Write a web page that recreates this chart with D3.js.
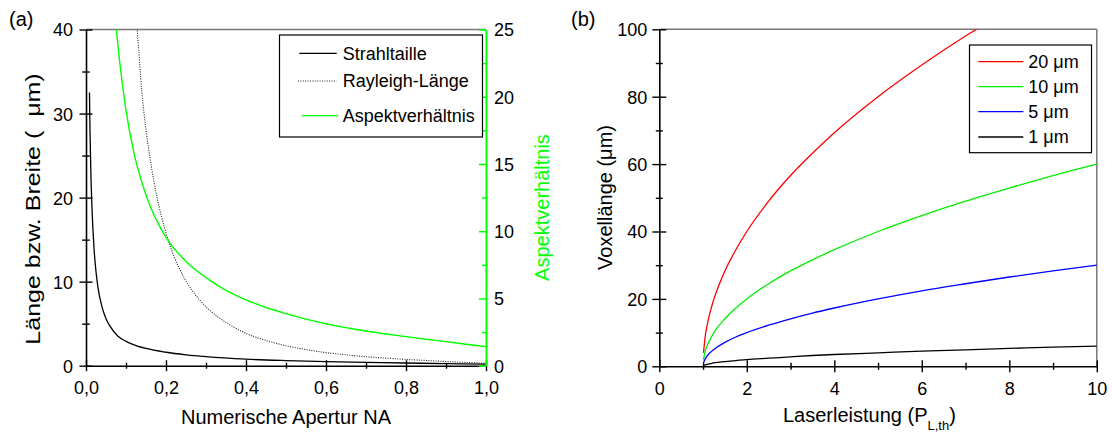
<!DOCTYPE html>
<html>
<head>
<meta charset="utf-8">
<script src="https://cdn.jsdelivr.net/npm/d3@7"></script>
<style>
  html, body { margin: 0; padding: 0; background: #fff; }
  svg text { font-family: "Liberation Sans", Arial, sans-serif; fill: #000; }
</style>
</head>
<body>
<svg id="chart" width="1112" height="432"></svg>
<script>
// ---- Panel (a): focus geometry versus numerical aperture ----
const naWaist  = [0.0087, 0.01, 0.012, 0.015, 0.02, 0.025, 0.03, 0.04, 0.05, 0.06, 0.08, 0.1, 0.125, 0.15, 0.2, 0.25, 0.3, 0.4, 0.5, 0.6, 0.7, 0.8, 0.9, 1.0];
const waist    = [32.5, 28.0, 23.3, 18.7, 14.0, 11.2, 9.3, 7.0, 5.6, 4.7, 3.5, 2.9, 2.4, 2.05, 1.6, 1.3, 1.08, 0.78, 0.61, 0.49, 0.4, 0.32, 0.25, 0.19];

const naRayleigh = [0.12, 0.128, 0.14, 0.15, 0.16, 0.18, 0.2, 0.22, 0.245, 0.27, 0.295, 0.33, 0.36, 0.4, 0.45, 0.5, 0.55, 0.6, 0.65, 0.7, 0.75, 0.8, 0.85, 0.9, 0.95, 1.0];
const rayleigh   = [45, 40, 32.4, 28.1, 24.7, 19.5, 15.8, 13.0, 10.5, 8.65, 7.25, 5.8, 4.85, 3.85, 3.0, 2.38, 1.92, 1.56, 1.29, 1.07, 0.9, 0.75, 0.62, 0.5, 0.39, 0.29];

const naAspect = [0.07, 0.076, 0.085, 0.1, 0.12, 0.14, 0.16, 0.18, 0.2, 0.25, 0.3, 0.35, 0.4, 0.45, 0.5, 0.55, 0.6, 0.65, 0.7, 0.75, 0.8, 0.85, 0.9, 0.95, 1.0];
const aspect   = [27.1, 25.0, 22.4, 19.0, 15.8, 13.6, 11.9, 10.6, 9.55, 7.75, 6.55, 5.6, 4.9, 4.33, 3.87, 3.46, 3.12, 2.83, 2.58, 2.36, 2.16, 1.97, 1.79, 1.6, 1.41];

const legendA   = ["Strahltaille", "Rayleigh-Länge", "Aspektverhältnis"];
const xTicksA   = [0, 0.2, 0.4, 0.6, 0.8, 1.0];
const xMinorA   = [0.1, 0.3, 0.5, 0.7, 0.9];
const yTicksA   = [0, 10, 20, 30, 40];
const yMinorA   = [5, 15, 25, 35];
const y2TicksA  = [0, 5, 10, 15, 20, 25];
const y2MinorA  = [2.5, 7.5, 12.5, 17.5, 22.5];

// ---- Panel (b): voxel length versus laser power ----
const power    = [1.01, 1.05, 1.1, 1.2, 1.3, 1.5, 1.75, 2, 2.5, 3, 3.5, 4, 5, 6, 7, 8, 9, 10];
const voxel20  = [4.0, 8.9, 12.6, 17.9, 21.9, 28.3, 34.6, 40, 49.0, 56.6, 63.2, 69.3, 80, 89.4, 98.0, 105.8, 113.1, 120];
const voxel10  = [2.0, 4.5, 6.3, 8.9, 11.0, 14.1, 17.3, 20, 24.5, 28.3, 31.6, 34.6, 40, 44.7, 49.0, 52.9, 56.6, 60];
const voxel5   = [1.0, 2.2, 3.2, 4.5, 5.5, 7.1, 8.7, 10, 12.2, 14.1, 15.8, 17.3, 20, 22.4, 24.5, 26.5, 28.3, 30];
const voxel1   = [0.2, 0.4, 0.6, 0.9, 1.1, 1.4, 1.7, 2.0, 2.4, 2.8, 3.2, 3.5, 4.0, 4.5, 4.9, 5.3, 5.7, 6.0];
const seriesB  = ["20 μm", "10 μm", "5 μm", "1 μm"];
const colorsB  = ["#ff0000", "#00ee00", "#0000ff", "#000000"];
const xTicksB  = [0, 2, 4, 6, 8, 10];
const xMinorB  = [1, 3, 5, 7, 9];
const yTicksB  = [0, 20, 40, 60, 80, 100];
const yMinorB  = [10, 30, 50, 70, 90];

const GREEN = "#00ff00";
const svg = d3.select("#chart");

// Axis with ticks that cross the axis line (both sides)
function crossAxis(g, axisFn, scale, major, minor, fmt, orient, majLen, minLen, color) {
  const maj = axisFn(scale).tickValues(major).tickFormat(fmt).tickSizeInner(majLen).tickSizeOuter(0);
  const mi = g.append("g").call(axisFn(scale).tickValues(minor).tickFormat(() => "").tickSizeInner(minLen).tickSizeOuter(0));
  mi.select(".domain").remove();
  const ma = g.append("g").call(maj);
  [mi, ma].forEach((sel, i) => {
    const len = i === 0 ? minLen : majLen;
    sel.selectAll(".tick line").attr("stroke", color).attr("stroke-width", 1.4);
    if (orient === "bottom") sel.selectAll(".tick line").attr("y1", -len);
    if (orient === "left") sel.selectAll(".tick line").attr("x1", len);
  });
  ma.select(".domain").attr("stroke", color).attr("stroke-width", 1.6);
  ma.selectAll(".tick text").attr("font-size", 18).attr("font-family", null).attr("fill", color);
  return ma;
}

// ================= Panel (a) =================
const xA  = d3.scaleLinear().domain([0, 1]).range([86, 486]);
const yA  = d3.scaleLinear().domain([0, 40]).range([365.7, 29.5]);
const yA2 = d3.scaleLinear().domain([0, 25]).range([365.7, 29.5]);

svg.append("defs").call(d => {
  d.append("clipPath").attr("id", "clipA").append("rect")
    .attr("x", xA(0)).attr("y", yA(40)).attr("width", xA(1) - xA(0)).attr("height", yA(0) - yA(40));
  d.append("clipPath").attr("id", "clipB").append("rect")
    .attr("x", 659.3).attr("y", 29.3).attr("width", 437.5).attr("height", 337);
});

const gA = svg.append("g");
// top frame
gA.append("line").attr("x1", xA(0)).attr("x2", xA(1)).attr("y1", yA(40)).attr("y2", yA(40))
  .attr("stroke", "#777").attr("stroke-width", 1.5);

const curvesA = gA.append("g").attr("clip-path", "url(#clipA)");
const lineW = d3.line().curve(d3.curveMonotoneX);
curvesA.append("path")
  .attr("d", lineW(naWaist.map((v, i) => [xA(v), yA(waist[i])])))
  .attr("fill", "none").attr("stroke", "#000").attr("stroke-width", 1.3);
curvesA.append("path")
  .attr("d", lineW(naRayleigh.map((v, i) => [xA(v), yA(rayleigh[i])])))
  .attr("fill", "none").attr("stroke", "#222").attr("stroke-width", 1.1).attr("stroke-dasharray", "1,1.4");
curvesA.append("path")
  .attr("d", lineW(naAspect.map((v, i) => [xA(v), yA2(aspect[i])])))
  .attr("fill", "none").attr("stroke", GREEN).attr("stroke-width", 1.4);

// bottom axis
const fmtComma = d => d.toFixed(1).replace(".", ",");
const axA = crossAxis(gA.append("g").attr("transform", `translate(0,${yA(0)})`), d3.axisBottom, xA,
  xTicksA, xMinorA, fmtComma, "bottom", 5.5, 3, "#000");
axA.selectAll(".tick text").attr("y", 28.5).attr("dy", null);

// left axis
const ayA = crossAxis(gA.append("g").attr("transform", `translate(${xA(0)},0)`), d3.axisLeft, yA,
  yTicksA, yMinorA, d3.format("d"), "left", 6.5, 3.8, "#000");
ayA.selectAll(".tick text").attr("x", -13).attr("dy", "0.36em");

// right axis (green), ticks pointing inward
const ry = gA.append("g").attr("transform", `translate(${xA(1)},0)`);
const ryMin = ry.append("g").call(d3.axisLeft(yA2).tickValues(y2MinorA).tickFormat(() => "").tickSizeInner(4).tickSizeOuter(0));
ryMin.select(".domain").remove();
const ryMaj = ry.append("g").call(d3.axisLeft(yA2).tickValues(y2TicksA).tickSizeInner(7).tickSizeOuter(0));
ry.selectAll(".tick line").attr("stroke", GREEN).attr("stroke-width", 1.5);
ryMaj.select(".domain").attr("stroke", GREEN).attr("stroke-width", 2);
ryMaj.selectAll(".tick text").attr("x", 8).attr("dy", "0.36em").attr("text-anchor", "start")
  .attr("font-size", 18).attr("font-family", null).attr("fill", GREEN);

// titles
gA.append("text").attr("transform", "translate(39.5,209) rotate(-90) scale(1.25,1)").attr("text-anchor", "middle")
  .attr("font-size", 20).text("Länge bzw. Breite (\u00a0\u00a0μm)");
gA.append("text").attr("transform", "translate(549,207.5) rotate(-90)").attr("text-anchor", "middle")
  .attr("font-size", 20).style("fill", GREEN).text("Aspektverhältnis");
gA.append("text").attr("x", 286).attr("y", 424).attr("text-anchor", "middle")
  .attr("font-size", 20).text("Numerische Apertur NA");
gA.append("text").attr("x", 9).attr("y", 26).attr("font-size", 20).text("(a)");

// legend (a)
const legA = gA.append("g");
legA.append("rect").attr("x", 279.5).attr("y", 35).attr("width", 203).attr("height", 102)
  .attr("fill", "#fff").attr("stroke", "#000").attr("stroke-width", 1.2);
const legAy = [53.3, 81, 115.7];
const legAstyle = [
  { stroke: "#000", dash: null, x1: 299.3, x2: 336.7 },
  { stroke: "#222", dash: "1,1.4", x1: 298, x2: 336.7 },
  { stroke: GREEN, dash: null, x1: 301.7, x2: 338.3 }
];
legendA.forEach((name, i) => {
  const s = legAstyle[i];
  legA.append("line").attr("x1", s.x1).attr("x2", s.x2).attr("y1", legAy[i]).attr("y2", legAy[i])
    .attr("stroke", s.stroke).attr("stroke-width", 1.2).attr("stroke-dasharray", s.dash);
  legA.append("text").attr("x", 342.7).attr("y", legAy[i]).attr("dy", "0.36em")
    .attr("font-size", 18).text(name);
});

// ================= Panel (b) =================
const xB = d3.scaleLinear().domain([0, 10]).range([659.3, 1096.8]);
const yB = d3.scaleLinear().domain([0, 100]).range([366.3, 29.3]);
const gB = svg.append("g");

gB.append("line").attr("x1", xB(0)).attr("x2", xB(10)).attr("y1", yB(100)).attr("y2", yB(100))
  .attr("stroke", "#777").attr("stroke-width", 1.5);
gB.append("line").attr("x1", xB(10)).attr("x2", xB(10)).attr("y1", yB(100)).attr("y2", yB(0))
  .attr("stroke", "#777").attr("stroke-width", 1.5);

const curvesB = gB.append("g").attr("clip-path", "url(#clipB)");
[voxel20, voxel10, voxel5, voxel1].forEach((vals, k) => {
  curvesB.append("path")
    .attr("d", lineW(power.map((p, i) => [xB(p), yB(vals[i])])))
    .attr("fill", "none").attr("stroke", colorsB[k]).attr("stroke-width", 1.3);
});

const axB = crossAxis(gB.append("g").attr("transform", `translate(0,${yB(0)})`), d3.axisBottom, xB,
  xTicksB, xMinorB, d3.format("d"), "bottom", 6, 3.5, "#000");
axB.selectAll(".tick text").attr("y", 28.5).attr("dy", null);
const ayB = crossAxis(gB.append("g").attr("transform", `translate(${xB(0)},0)`), d3.axisLeft, yB,
  yTicksB, yMinorB, d3.format("d"), "left", 7, 3.5, "#000");
ayB.selectAll(".tick text").attr("x", -12).attr("dy", "0.36em");

gB.append("text").attr("transform", "translate(611.7,197.5) rotate(-90)").attr("text-anchor", "middle")
  .attr("font-size", 20).text("Voxellänge (μm)");
const tB = gB.append("text").attr("x", 783).attr("y", 421.7).attr("font-size", 20);
tB.append("tspan").text("Laserleistung (P");
tB.append("tspan").attr("font-size", 13).attr("dy", 8.3).text("L,th");
tB.append("tspan").attr("dy", -8.3).text(")");
gB.append("text").attr("x", 571).attr("y", 26).attr("font-size", 20).text("(b)");

// legend (b)
const legB = gB.append("g");
legB.append("rect").attr("x", 969.5).attr("y", 45).attr("width", 122).attr("height", 107.7)
  .attr("fill", "#fff").attr("stroke", "#000").attr("stroke-width", 1.2);
const legBy = [61.7, 86.7, 111.7, 137];
seriesB.forEach((name, i) => {
  legB.append("line").attr("x1", 978.3).attr("x2", 1023.3).attr("y1", legBy[i]).attr("y2", legBy[i])
    .attr("stroke", colorsB[i]).attr("stroke-width", 1.3);
  legB.append("text").attr("x", 1028.3).attr("y", legBy[i]).attr("dy", "0.36em")
    .attr("font-size", 18).text(name);
});
</script>
</body>
</html>
